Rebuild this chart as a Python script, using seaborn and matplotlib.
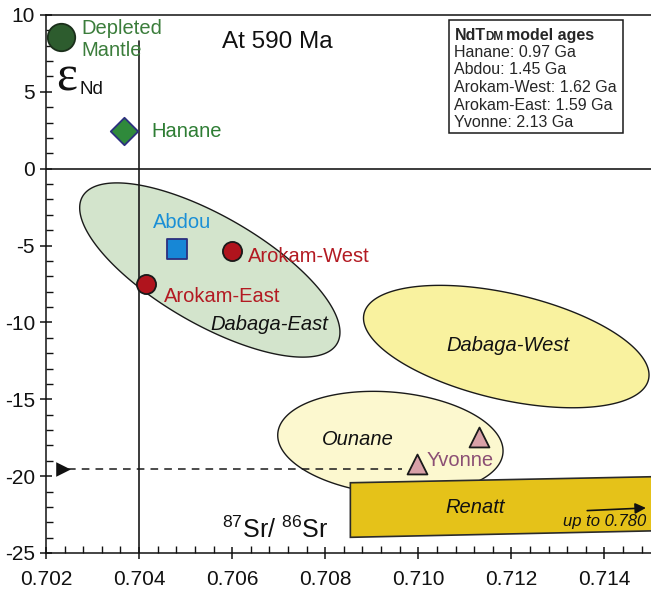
import numpy as np
import pandas as pd
import matplotlib
matplotlib.use("Agg")
import matplotlib.pyplot as plt
import seaborn as sns
from matplotlib.patches import Rectangle, Polygon
from matplotlib.transforms import Affine2D

# ---------------- data ----------------
sample_names = ["Depleted Mantle", "Hanane", "Abdou", "Arokam-West", "Arokam-East", "Yvonne", "Yvonne"]
sr_values = [0.70233, 0.70368, 0.70481, 0.70599, 0.70415, 0.70998, 0.71131]
eps_values = [8.57, 2.45, -5.22, -5.33, -7.52, -19.2, -17.46]
markers = ["o", "D", "s", "o", "o", "^", "^"]
fills = ["#2d5c2e", "#2f8a3b", "#1787d6", "#b0141d", "#b0141d", "#d9a1a8", "#d9a1a8"]
edges = ["#1b2f1b", "#2b2f7e", "#2b2f7e", "#1a1a1a", "#1a1a1a", "#1a1a1a", "#1a1a1a"]
sizes = [390, 195, 210, 190, 190, 205, 205]

# field ellipses: centre (Sr, eps), semi-axes in px, tilt (deg)
field_names = ["Dabaga-East", "Dabaga-West", "Ounane"]
field_cx = [0.70552, 0.71189, 0.70940]
field_cy = [-6.59, -11.57, -17.85]
field_a = [147, 146, 113]
field_b = [54, 53, 51]
field_ang = [-30, -13, -5]
field_fill = ["#d3e4cc", "#f9f29f", "#fcf8cf"]

# Renatt field (quadrilateral)
renatt_x = [0.70854, 0.7155, 0.7155, 0.70854]
renatt_y = [-20.43, -20.01, -23.53, -23.98]

model_age_title = "model ages"
model_ages = ["Hanane: 0.97 Ga", "Abdou: 1.45 Ga", "Arokam-West: 1.62 Ga",
              "Arokam-East: 1.59 Ga", "Yvonne: 2.13 Ga"]

xticks = [0.702, 0.704, 0.706, 0.708, 0.710, 0.712, 0.714]
yticks = [-25, -20, -15, -10, -5, 0, 5, 10]

# ---------------- figure ----------------
sns.set_theme(style="ticks")
plt.rcParams["font.family"] = ["Liberation Sans", "DejaVu Sans"]
plt.rcParams["mathtext.fontset"] = "custom"
plt.rcParams["mathtext.rm"] = "Liberation Sans"
plt.rcParams["mathtext.it"] = "Liberation Sans:italic"

W, H = 651, 594
fig = plt.figure(figsize=(W / 100, H / 100), dpi=100)
fig.patch.set_facecolor("white")
L, R, T, B = 46, 651, 15, 553
ax = fig.add_axes([L / W, (H - B) / H, (R - L) / W, (B - T) / H])
ax.set_facecolor("white")
ax.set_xlim(0.702, 0.715)
ax.set_ylim(-25, 10)

sx = (R - L) / 0.013
sy = (B - T) / 35.0

# ellipses
t = np.linspace(0, 2 * np.pi, 300)
for cx, cy, a, b, ang, fc in zip(field_cx, field_cy, field_a, field_b, field_ang, field_fill):
    th = np.deg2rad(ang)
    px = a * np.cos(t) * np.cos(th) - b * np.sin(t) * np.sin(th)
    py = a * np.cos(t) * np.sin(th) + b * np.sin(t) * np.cos(th)
    ax.fill(cx + px / sx, cy + py / sy, facecolor=fc, edgecolor="#1a1a1a", linewidth=1.0, zorder=1)

ax.add_patch(Polygon(list(zip(renatt_x, renatt_y)), closed=True, facecolor="#e5c219",
                     edgecolor="#2a2a2a", linewidth=1.2, zorder=3))

# reference lines
ax.axhline(0, color="#1a1a1a", lw=1.2, zorder=2)
ax.plot([0.704, 0.704], [-25, 8.3], color="#1a1a1a", lw=1.2, zorder=2)

# dashed line with arrow marker
ax.plot([0.70248, 0.70966], [-19.56, -19.56], color="#1a1a1a", lw=1.1, ls=(0, (5, 4)), zorder=2)
ax.scatter([0.70236], [-19.56], marker=">", s=110, color="#111111", zorder=4, linewidths=0)

# sample markers
df = pd.DataFrame({"name": sample_names, "sr": sr_values, "eps": eps_values})
for i in range(len(df)):
    sns.scatterplot(data=df.iloc[[i]], x="sr", y="eps", marker=markers[i], s=sizes[i],
                    color=fills[i], edgecolor=edges[i], linewidth=1.3, ax=ax, zorder=5,
                    legend=False, clip_on=False)

# labels
fs = 14.5
ax.text(0.70275, 8.40, "Depleted\nMantle", color="#3b7d3b", fontsize=fs, va="center",
        ha="left", linespacing=1.25, zorder=6)
ax.text(0.704256, 2.45, "Hanane", color="#2e7d34", fontsize=fs, va="center", ha="left", zorder=6)
ax.text(0.704922, -3.48, "Abdou", color="#1a8fd6", fontsize=fs, va="center", ha="center", zorder=6)
ax.text(0.706341, -5.74, "Arokam-West", color="#b31a22", fontsize=fs, va="center", ha="left", zorder=6)
ax.text(0.704536, -8.29, "Arokam-East", color="#b31a22", fontsize=fs, va="center", ha="left", zorder=6)
ax.text(0.710187, -18.96, "Yvonne", color="#8b4f74", fontsize=fs, va="center", ha="left", zorder=6)
ax.text(0.708704, -17.59, "Ounane", fontsize=fs, style="italic", va="center", ha="center", color="#111", zorder=6)
ax.text(0.706792, -10.11, "Dabaga-East", fontsize=fs, style="italic", va="center", ha="center", color="#111", zorder=6)
ax.text(0.711927, -11.47, "Dabaga-West", fontsize=fs, style="italic", va="center", ha="center", color="#111", zorder=6)
ax.text(0.711218, -22.01, "Renatt", fontsize=fs, style="italic", va="center", ha="center", color="#111", zorder=6)
ax.text(0.714012, -22.97, "up to 0.780", fontsize=12, style="italic", va="center", ha="center", color="#111", zorder=6)
ax.annotate("", xy=(0.71495, -22.06), xytext=(0.71357, -22.25),
            arrowprops=dict(arrowstyle="-|>", color="#111", lw=1.2, mutation_scale=16), zorder=6)

ax.text(0.705782, 8.24, "At 590 Ma", fontsize=17.5, va="center", ha="left", color="#111")
ax.text(0.70245, 5.9, "ε", fontsize=36, va="center", ha="center", color="#111",
        family=["Liberation Serif", "DejaVu Serif"])
ax.text(0.70271, 5.15, "Nd", fontsize=13.5, va="center", ha="left", color="#111")
ax.text(0.705782, -23.52, r"$^{87}\mathrm{Sr/}\ ^{86}\mathrm{Sr}$", fontsize=18, va="center", ha="left", color="#111")

# model ages box (pixel coords, top-left origin)
pix = Affine2D().scale(1 / W, -1 / H).translate(0, 1) + fig.transFigure
fig.patches.append(Rectangle((449, 20), 174, 113, transform=pix, facecolor="white",
                             edgecolor="#1a1a1a", lw=1.1, zorder=1))
fig.canvas.draw()
r = fig.canvas.get_renderer()
t1 = fig.text(455, 40, "NdT", transform=pix, fontsize=11.5, fontweight="bold",
              va="baseline", ha="left", zorder=5)
bb = t1.get_window_extent(r)
t2 = fig.text((bb.x1 - 1) / W, 1 - 40 / H, "DM", fontsize=8.5, fontweight="bold",
              va="baseline", ha="left", zorder=5)
bb2 = t2.get_window_extent(r)
fig.text((bb2.x1 + 3) / W, 1 - 40 / H, model_age_title, fontsize=11.5, fontweight="bold",
         va="baseline", ha="left", zorder=5)
for k, line in enumerate(model_ages):
    fig.text(454 / W, 1 - (57 + 17.5 * k) / H, line, fontsize=11.5, va="baseline",
             ha="left", zorder=5)

# axes styling
ax.set_xticks(xticks)
ax.set_xticklabels([f"{v:.3f}" for v in xticks])
ax.set_yticks(yticks)
ax.set_yticklabels([str(v) for v in yticks])
ax.set_xticks(np.arange(0.702, 0.7151, 0.0004), minor=True)
ax.set_yticks(np.arange(-25, 10.1, 1), minor=True)
ax.tick_params(axis="both", which="major", direction="inout", length=8, width=1.1,
               labelsize=15, colors="#111")
ax.tick_params(axis="x", which="major", pad=8)
ax.tick_params(axis="y", which="major", pad=4)
ax.tick_params(axis="both", which="minor", direction="in", length=5, width=1.0, color="#111")
for s in ["left", "bottom", "top"]:
    ax.spines[s].set_color("#111")
    ax.spines[s].set_linewidth(1.1)
ax.spines["right"].set_visible(False)
ax.set_xlabel("")
ax.set_ylabel("")

fig.savefig("out.png", dpi=100)
